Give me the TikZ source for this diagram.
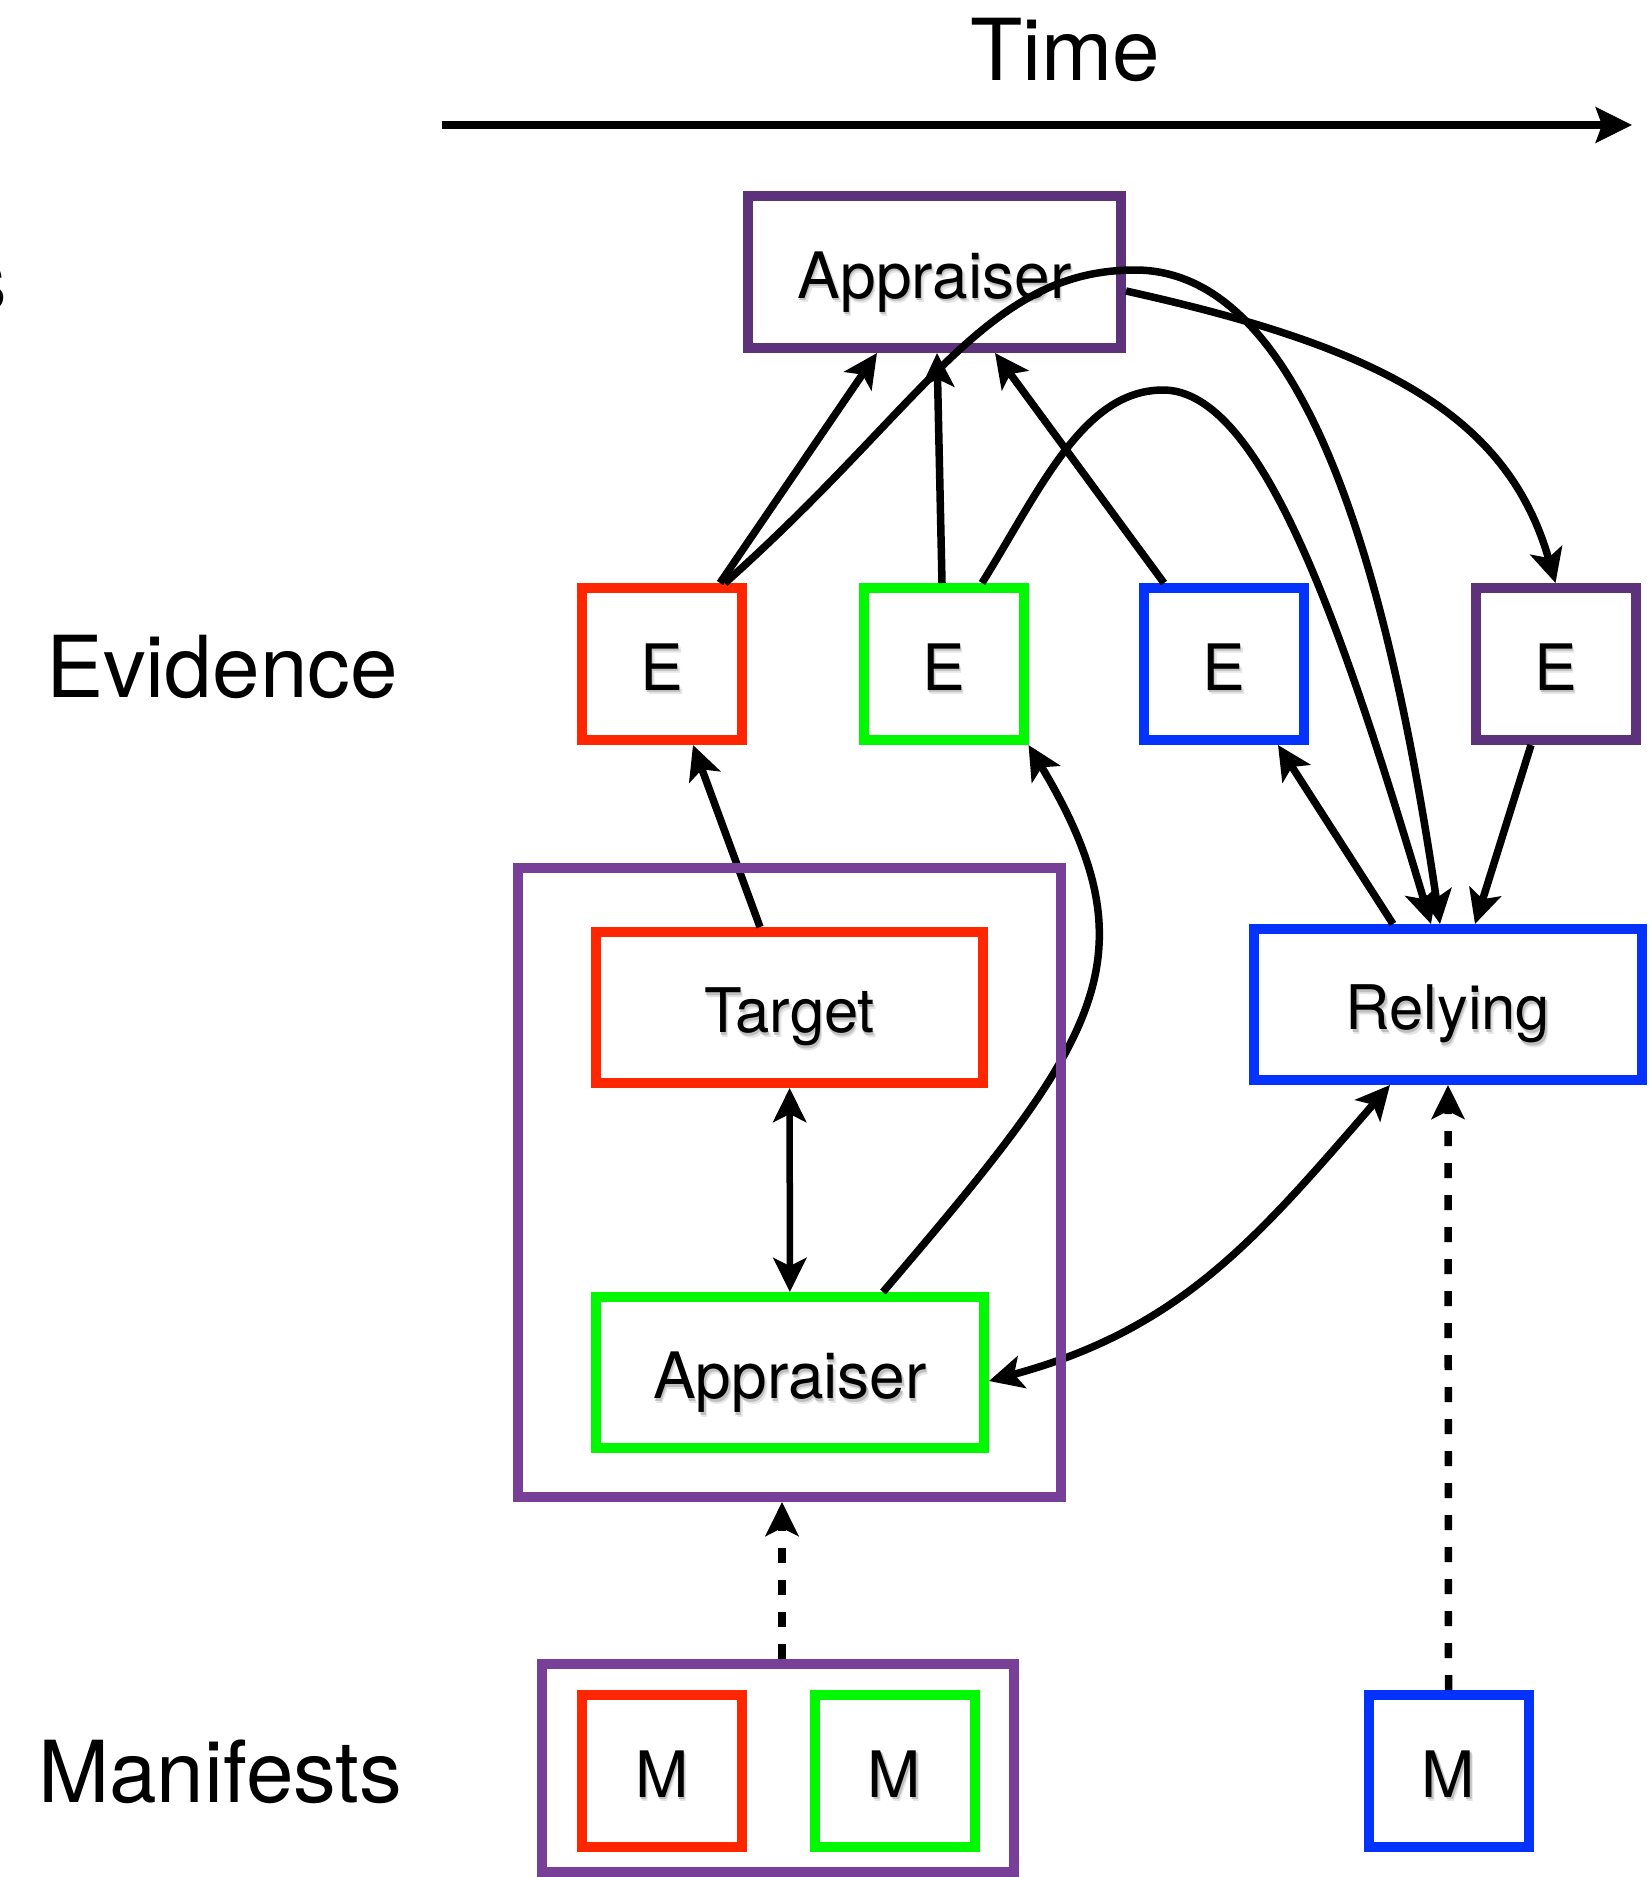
\documentclass[tikz,border=0pt]{standalone}
\usepackage{fontspec}
\setmainfont{TeX Gyre Heros}
\usetikzlibrary{arrows.meta,calc}

\definecolor{cred}{RGB}{255,38,0}
\definecolor{cgreen}{RGB}{0,249,0}
\definecolor{cblue}{RGB}{4,51,255}
\definecolor{cpurpleD}{RGB}{94,50,122}
\definecolor{cpurpleL}{RGB}{120,63,152}

\pgfdeclarelayer{front}
\pgfsetlayers{main,front}

% font sizes
\newcommand{\fsLabel}{\fontsize{85.5}{96}\selectfont}
\newcommand{\fsBox}{\fontsize{64}{72}\selectfont}
\newcommand{\fsBoxS}{\fontsize{61.5}{70}\selectfont}
% soft drop shadow under box texts
\newcommand{\shd}[1]{\leavevmode\rlap{\hspace{2.5pt}\raisebox{-4.5pt}{\textcolor{black!10}{#1}}}\rlap{\hspace{1.2pt}\raisebox{-2.5pt}{\textcolor{black!25}{#1}}}#1}

\begin{document}
\begin{tikzpicture}[x=1pt,y=-1pt,
  box/.style={draw, line width=10pt, rectangle, inner sep=0pt,
    text height=52pt, text depth=0pt, font=\fsBox},
  ebox/.style={box, minimum width=160pt, minimum height=152pt},
  lbl/.style={inner sep=0pt, font=\fsLabel},
  tip/.tip={Stealth[length=34pt, width=33pt, inset=8pt]},
  arr/.style={draw, line width=7.5pt, -tip},
  arrboth/.style={draw, line width=7.5pt, tip-tip},
  darr/.style={draw, line width=7.5pt, -tip, dash pattern=on 15pt off 17pt},
]
\useasboundingbox (0,0) rectangle (1650,1877);

% --- row labels and time axis
\node[lbl, anchor=base] (time) at (1065,80) {Time};
\coordinate (t0) at (441.5,125);
\coordinate (t1) at (1632,125);
\draw[line width=8pt, -{Stealth[length=36pt, width=35pt, inset=6pt]}] (t0) -- (t1);

\node[lbl, anchor=base east] (lcut) at (7,310) {s};
\node[lbl, anchor=base west] (lev) at (46,697) {Evidence};
\node[lbl, anchor=base west] (lman) at (38,1802) {Manifests};

% --- appraiser on top
\node[box, draw=cpurpleD, minimum width=373pt, minimum height=152pt] (apT) at (934.5,272) {\shd{Appraiser}};

% --- evidence row
\node[ebox, draw=cred]     (eR) at (662,664)    {\shd{E}};
\node[ebox, draw=cgreen]   (eG) at (943.5,664)  {\shd{E}};
\node[ebox, draw=cblue]    (eB) at (1224,664)   {\shd{E}};
\node[ebox, draw=cpurpleD] (eP) at (1555.5,664) {\shd{E}};

% --- attester (target + local appraiser) and relying party
\begin{pgfonlayer}{front}
\node[draw=cpurpleL, line width=10pt, rectangle, inner sep=0pt,
      minimum width=543pt, minimum height=629pt] (grp) at (789.5,1182.5) {};
\end{pgfonlayer}
\node[box, draw=cred, minimum width=387pt, minimum height=151pt,
      font=\fsBoxS, text height=50pt] (tgt) at (789.5,1007.5) {\shd{Target}};
\node[box, draw=cgreen, minimum width=388pt, minimum height=151pt] (apG) at (790,1372.5) {\shd{Appraiser}};
\node[box, draw=cblue, minimum width=388pt, minimum height=151pt,
      font=\fsBoxS, text height=50pt] (rel) at (1448,1004.5) {\shd{Relying}};

% --- manifests
\node[draw=cpurpleL, line width=10pt, rectangle, inner sep=0pt,
      minimum width=472pt, minimum height=208pt] (grpM) at (778,1768) {};
\node[ebox, draw=cred]   (mR) at (662,1771)    {\shd{M}};
\node[ebox, draw=cgreen] (mG) at (894.5,1771)  {\shd{M}};
\node[ebox, draw=cblue]  (mB) at (1448.5,1771) {\shd{M}};

% --- evidence to the top appraiser
\draw[arr] ($(eR.north)+(58,0)$) -- ($(apT.south)+(-57.5,0)$);
\draw[arr] ($(eG.north)+(-1.5,0)$) -- ($(apT.south)+(2.5,0)$);
\draw[arr] ($(eB.north)+(-60,0)$) -- ($(apT.south)+(60.5,0)$);

% --- long arcs from evidence to the relying party
\coordinate (pk1) at (1135,270);
\coordinate (pk2) at (1163,390);
\draw[arr] ($(eR.north)+(63,0)$) .. controls (925,405) and (985,270) .. (pk1)
  .. controls (1305,270) and (1388,571) .. ($(rel.north)+(-8,0)$);
\draw[arr] ($(eG.north)+(38.5,0)$) .. controls (1040,490) and (1083,390) .. (pk2)
  .. controls (1263,390) and (1344,633) .. ($(rel.north)+(-17,0)$);

% --- top appraiser produces purple evidence
\draw[arr] ($(apT.east)+(0,19)$) .. controls (1369,345) and (1506,409) .. (eP.north);

% --- relying party links
\draw[arr] ($(rel.north)+(-55,0)$) -- ($(eB.south)+(54,0)$);
\draw[arr] ($(eP.south)+(-24.5,0)$) -- ($(rel.north)+(27,0)$);

% --- attester internals
\draw[arr] ($(tgt.north)+(-29.5,0)$) -- ($(eR.south)+(31,0)$);
\draw[arrboth, line width=6.5pt] (tgt) -- (apG);
\draw[arr] ($(apG.north)+(93,0)$) .. controls (1097,1041) and (1157.5,960) .. (eG.south east);
\draw[arrboth] ($(rel.south)+(-58,0)$) .. controls (1258,1237) and (1182,1329) .. ($(apG.east)+(0,8.5)$);

% --- manifests feed the components
\draw[darr] ($(grpM.north)+(4,0)$) -- ($(grp.south)+(-7.5,0)$);
\draw[darr] (mB.north) -- (rel.south);

\end{tikzpicture}
\end{document}
